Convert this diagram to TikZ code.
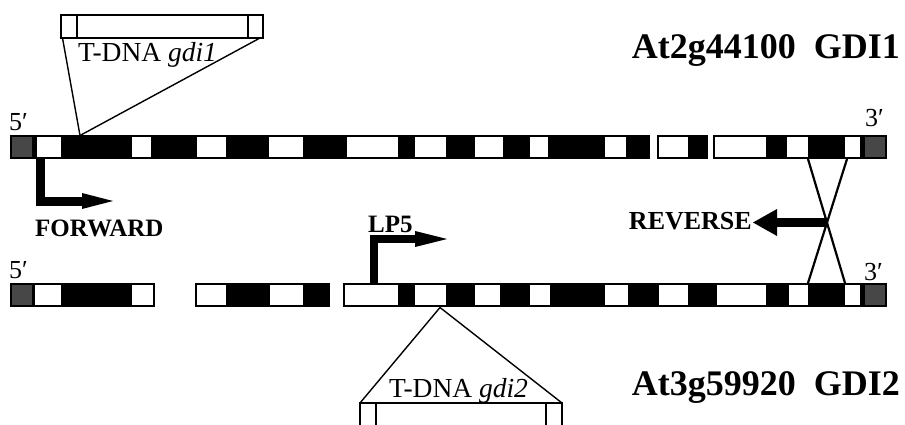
\documentclass[tikz,border=0pt]{standalone}
\usepackage{fontspec}
\setmainfont{Liberation Serif}
\usetikzlibrary{arrows.meta}
\begin{document}
\begin{tikzpicture}[x=1pt,y=-1pt,
  barseg/.style={fill=black},
  exon/.style={draw=black,line width=2pt,fill=white},
  utr/.style={draw=black,line width=2pt,fill=black!72},
  thin/.style={draw=black,line width=1.4pt},
  xline/.style={draw=black,line width=2.2pt},
  bigarrow/.style={draw=black,line join=miter},
  lbl/.style={inner sep=0pt,font=\fontsize{26}{28}\selectfont},
  blbl/.style={inner sep=0pt,font=\fontsize{25}{27}\selectfont\bfseries},
  genelbl/.style={inner sep=0pt,font=\fontsize{36}{40}\selectfont\bfseries},
  tdna/.style={inner sep=0pt,font=\fontsize{27.5}{30}\selectfont}]
\useasboundingbox (0,0) rectangle (905,425);
\fill[white] (0,0) rectangle (905,425);

% ---------- top gene ----------
\fill[barseg] (10,135) rectangle (650,159);
\fill[barseg] (657,135) rectangle (708,159);
\fill[barseg] (713,135) rectangle (887,159);
\draw[utr] (11,136) rectangle (33,158);
\draw[utr] (864,136) rectangle (886,158);
\foreach \a/\b in {35/63,130/153,195/228,267/305,345/400,413/448,473/505,528/550,603/628,657/690,713/768,785/810,843/862}
  \draw[exon] (\a+1,136) rectangle (\b-1,158);

% ---------- bottom gene ----------
\fill[barseg] (10,283) rectangle (155,307);
\fill[barseg] (195,283) rectangle (330,307);
\fill[barseg] (343,283) rectangle (887,307);
\draw[utr] (11,284) rectangle (33,306);
\draw[utr] (864,284) rectangle (886,306);
\foreach \a/\b in {33/63,130/155,195/228,268/305,343/400,413/448,473/502,528/552,603/630,657/690,715/768,787/810,843/862}
  \draw[exon] (\a+1,284) rectangle (\b-1,306);

% ---------- coordinates ----------
\coordinate (t1a) at (808,159);
\coordinate (t1b) at (847,159);
\coordinate (b1a) at (808,283);
\coordinate (b1b) at (845,283);
\coordinate (cross) at (826,222.5);
\coordinate (revtip) at (753,222.5);
\coordinate (fwdstart) at (40,159);
\coordinate (fwdcorner) at (40,201);
\coordinate (fwdtip) at (113,201);
\coordinate (lpstart) at (374,283);
\coordinate (lpcorner) at (374,239);
\coordinate (lptip) at (447,239);
\coordinate (ins1) at (80,135.5);
\coordinate (ins2) at (440,307.5);

% ---------- swap lines ----------
\draw[xline] (t1a) -- (b1b);
\draw[xline] (t1b) -- (b1a);

% ---------- primer arrows ----------
\draw[bigarrow,line width=9pt,-{Triangle[length=24pt,width=27pt,line width=0pt]}] (cross) -- (revtip);
\draw[bigarrow,line width=9pt,-{Triangle[length=31pt,width=16pt,line width=0pt]}] (fwdstart) -- (fwdcorner) -- (fwdtip);
\draw[bigarrow,line width=8pt,-{Triangle[length=32pt,width=16pt,line width=0pt]}] (lpstart) -- (lpcorner) -- (lptip);

% ---------- T-DNA gdi1 ----------
\draw[thin,fill=white] (61,15) rectangle (263,38);
\draw[thin] (77,15) -- (77,38);
\draw[thin] (248,15) -- (248,38);
\coordinate (g1l) at (62.5,38);
\coordinate (g1r) at (260,38);
\draw[thin] (g1l) -- (ins1) -- (g1r);
\node[tdna,anchor=base west] (tdna1) at (78,62) {T-DNA \textit{gdi1}};

% ---------- T-DNA gdi2 ----------
\coordinate (g2l) at (360,403);
\coordinate (g2r) at (562,403);
\draw[thin] (g2l) -- (ins2) -- (g2r);
\draw[thin] (360,427) -- (g2l) -- (g2r) -- (562,427);
\draw[thin] (376,403) -- (376,427);
\draw[thin] (546,403) -- (546,427);
\node[tdna,anchor=base west] (tdna2) at (389,397) {T-DNA \textit{gdi2}};

% ---------- labels ----------
\node[genelbl,anchor=base east] (gene1) at (900,59) {At2g44100\hspace{0.5em}GDI1};
\node[genelbl,anchor=base east] (gene2) at (900,395) {At3g59920\hspace{0.5em}GDI2};
\node[lbl,anchor=base west] (p5top) at (9,131) {5′};
\node[lbl,anchor=base west] (p3top) at (865,127) {3′};
\node[lbl,anchor=base west] (p5bot) at (9,278) {5′};
\node[lbl,anchor=base west] (p3bot) at (864,280) {3′};
\node[blbl,anchor=base west] (fwd) at (35,236) {FORWARD};
\node[blbl,anchor=base east,font=\fontsize{26}{28}\selectfont\bfseries] (rev) at (752,229) {REVERSE};
\node[blbl,anchor=base west] (lp5) at (368,232) {LP5};
\end{tikzpicture}
\end{document}
